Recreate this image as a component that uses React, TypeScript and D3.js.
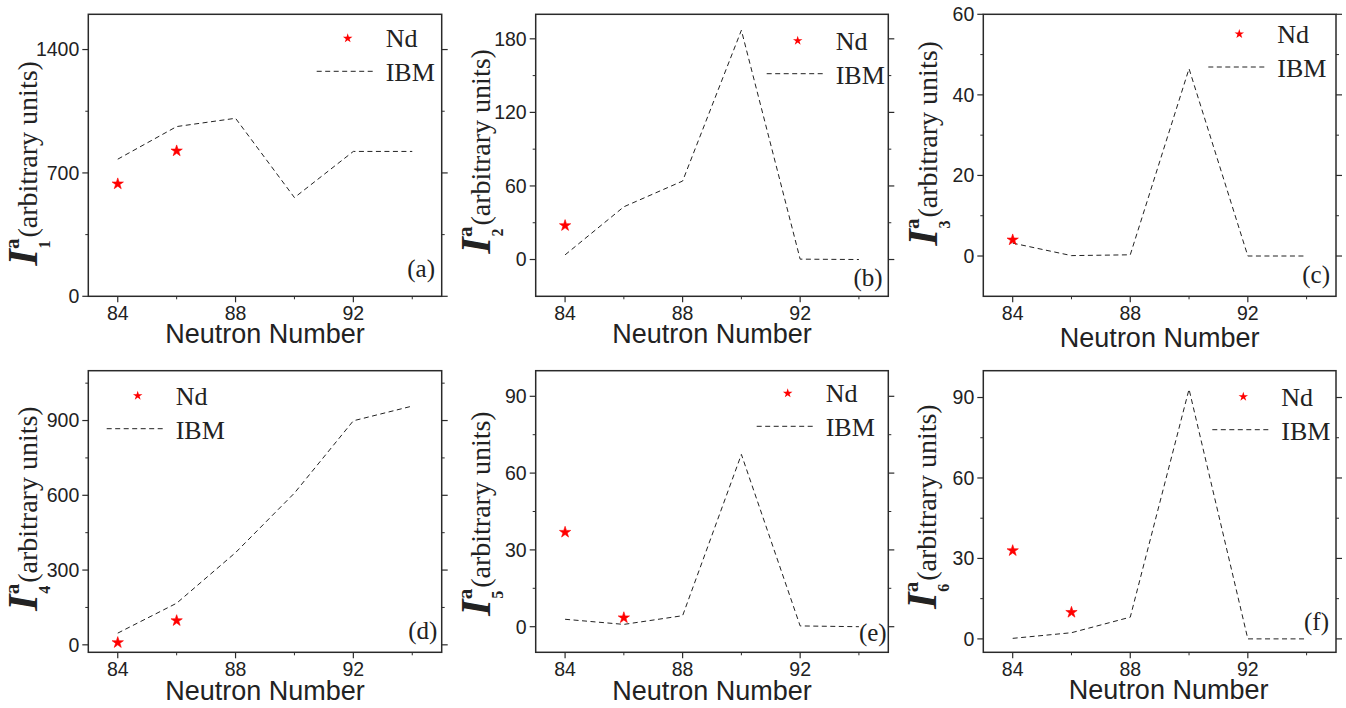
import React from 'react';
import * as d3 from 'd3';

// neutron numbers on the x axis
const neutronNumbers = [84, 86, 88, 90, 92, 94];
const ndNeutrons = [84, 86];
const xTickLabels = [84, 88, 92];
const xMinorTicks = [86, 90, 94];

// IBM curves (dashed)
const ibmI1 = [778, 963, 1010, 560, 822, 822];
const ibmI2 = [3.8, 43, 64, 187, 0.3, 0];
const ibmI3 = [3.2, 0.1, 0.3, 46.5, 0, 0];
const ibmI4 = [47, 167, 370, 609, 899, 958];
const ibmI5 = [2.9, 0.9, 4.3, 67.3, 0.3, 0];
const ibmI6 = [0.2, 2.3, 8.1, 93.1, 0, 0];

// Nd experimental points (stars)
const ndI1 = [638, 825];
const ndI2 = [27.7];
const ndI3 = [4];
const ndI4 = [9, 97];
const ndI5 = [36.9, 3.5];
const ndI6 = [32.9, 9.9];

// y ticks
const yTicks1 = [0, 700, 1400];
const yTicks2 = [0, 60, 120, 180];
const yTicks3 = [0, 20, 40, 60];
const yTicks4 = [0, 300, 600, 900];
const yTicks5 = [0, 30, 60, 90];
const yTicks6 = [0, 30, 60, 90];

const yMinor1 = [350, 1050];
const yMinor2 = [30, 90, 150];
const yMinor3 = [10, 30, 50];
const yMinor4 = [150, 450, 750, 1050];
const yMinor5 = [15, 45, 75];
const yMinor6 = [15, 45, 75];

const panelLetters = ['a', 'b', 'c', 'd', 'e', 'f'];

const colX = [[88.3, 441.7], [535.7, 888.3], [983.3, 1336]];
const rowY = [[14.3, 296.3], [370.7, 652.3]];

const panels = [
  {ibm: ibmI1, nd: ndI1, yDomain: [0, 1600], ticks: yTicks1, minor: yMinor1, col: 0, row: 0,
    legend: [259.4, 24], letter: [-6.7, -19], ylab: [-51, 8], title: [0, 0]},
  {ibm: ibmI2, nd: ndI2, yDomain: [-30, 200], ticks: yTicks2, minor: yMinor2, col: 1, row: 0,
    legend: [262, 26.4], letter: [-5.6, -10], ylab: [-46, -4], title: [0, 0]},
  {ibm: ibmI3, nd: ndI3, yDomain: [-10, 60], ticks: yTicks3, minor: yMinor3, col: 2, row: 0,
    legend: [256, 19.7], letter: [-6, -13], ylab: [-46, -12], title: [0, 4]},
  {ibm: ibmI4, nd: ndI4, yDomain: [-30, 1100], ticks: yTicks4, minor: yMinor4, col: 0, row: 1,
    legend: [49.4, 25], letter: [-4.4, -13], ylab: [-51, -3], title: [0, 1]},
  {ibm: ibmI5, nd: ndI5, yDomain: [-10, 100], ticks: yTicks5, minor: yMinor5, col: 1, row: 1,
    legend: [252, 22.6], letter: [-1.6, -11], ylab: [-46, 2], title: [0, 1]},
  {ibm: ibmI6, nd: ndI6, yDomain: [-5, 100], ticks: yTicks6, minor: yMinor6, col: 2, row: 1,
    legend: [260, 26], letter: [-7, -22], ylab: [-47, -5], title: [9, 0]},
];

const SANS = '"Liberation Sans", Arial, sans-serif';
const SERIF = '"Liberation Serif", "Times New Roman", serif';
const FRAME = '#2a2a2a';

const starBig = d3.symbol(d3.symbolStar, 40)();
const starSmall = d3.symbol(d3.symbolStar, 28)();

function Panel({p, i}) {
  const [x0, x1] = colX[p.col];
  const [y0, y1] = rowY[p.row];
  const x = d3.scaleLinear().domain([83, 95]).range([x0, x1]);
  const y = d3.scaleLinear().domain(p.yDomain).range([y1, y0]);
  const line = d3.line<number>().x((d, k) => x(neutronNumbers[k])).y(d => y(d));
  const lx = x0 + p.legend[0];
  const ly = y0 + p.legend[1];
  const cy = (y0 + y1) / 2 + p.ylab[1];
  const labX = x0 + p.ylab[0];

  return (
    <g>
      {/* ticks left & right, outward */}
      {p.ticks.map(t => (
        <g key={'t' + t}>
          <line x1={x0 - 6} x2={x0} y1={y(t)} y2={y(t)} stroke={FRAME} strokeWidth={1.2} />
          <line x1={x1} x2={x1 + 6} y1={y(t)} y2={y(t)} stroke={FRAME} strokeWidth={1.2} />
          <text x={x0 - 9} y={y(t)} dy="0.35em" textAnchor="end" fontFamily={SANS} fontSize={19.5} fill="#222">{t}</text>
        </g>
      ))}
      {p.minor.map(t => (
        <g key={'m' + t}>
          <line x1={x0 - 3} x2={x0} y1={y(t)} y2={y(t)} stroke={FRAME} strokeWidth={1} />
          <line x1={x1} x2={x1 + 3} y1={y(t)} y2={y(t)} stroke={FRAME} strokeWidth={1} />
        </g>
      ))}
      {xTickLabels.map(t => (
        <g key={'x' + t}>
          <line x1={x(t)} x2={x(t)} y1={y1} y2={y1 + 6} stroke={FRAME} strokeWidth={1.2} />
          <text x={x(t)} y={y1 + 23.5} textAnchor="middle" fontFamily={SANS} fontSize={19.5} fill="#222">{t}</text>
        </g>
      ))}
      {xMinorTicks.map(t => (
        <line key={'xm' + t} x1={x(t)} x2={x(t)} y1={y1} y2={y1 + 3} stroke={FRAME} strokeWidth={1} />
      ))}
      <rect x={x0} y={y0} width={x1 - x0} height={y1 - y0} fill="none" stroke={FRAME} strokeWidth={1.5} />

      {/* IBM dashed line */}
      <path d={line(p.ibm) || ''} fill="none" stroke="#222" strokeWidth={1} strokeDasharray="5,3.5" />
      {/* Nd stars */}
      {p.nd.map((v, k) => (
        <path key={'s' + k} d={starBig || ''} transform={`translate(${x(ndNeutrons[k])},${y(v)})`}
          fill="#ff0000" stroke="#ff0000" strokeWidth={0.6} />
      ))}

      {/* legend */}
      <path d={starSmall || ''} transform={`translate(${lx},${ly})`} fill="#ff0000" />
      <text x={lx + 38} y={ly + 9} fontFamily={SERIF} fontSize={26} fill="#222">Nd</text>
      <line x1={lx - 31} x2={lx + 27} y1={ly + 33} y2={ly + 33} stroke="#222" strokeWidth={1} strokeDasharray="5,3.5" />
      <text x={lx + 38} y={ly + 43} fontFamily={SERIF} fontSize={26} fill="#222">IBM</text>

      {/* panel letter */}
      <text x={x1 + p.letter[0]} y={y1 + p.letter[1]} textAnchor="end" fontFamily={SERIF} fontSize={25} fill="#222">
        ({panelLetters[i]})
      </text>

      {/* axis titles */}
      <text x={(x0 + x1) / 2 + p.title[0]} y={y1 + 47 + p.title[1]} textAnchor="middle"
        fontFamily={SANS} fontSize={27} fill="#222">Neutron Number</text>
      <text transform={`translate(${labX},${cy}) rotate(-90)`} textAnchor="middle" fontFamily={SERIF} fill="#222">
        <tspan fontFamily={SERIF} fontSize={42} fontWeight="bold" fontStyle="italic">I</tspan>
        <tspan fontFamily={SERIF} fontSize={21} fontWeight="bold" dy={-18}>a</tspan>
        <tspan fontFamily={SERIF} fontSize={16} fontWeight="bold" dx={-10} dy={31}>{i + 1}</tspan>
        <tspan fontFamily={SERIF} fontSize={28} dx={3} dy={-13}>(arbitrary units)</tspan>
      </text>
    </g>
  );
}

export default function App() {
  return (
    <svg width={1346} height={708} style={{position: 'absolute', left: 0, top: 0, background: '#fff'}}>
      <rect width={1346} height={708} fill="#fff" />
      {panels.map((p, i) => <Panel key={i} p={p} i={i} />)}
    </svg>
  );
}
